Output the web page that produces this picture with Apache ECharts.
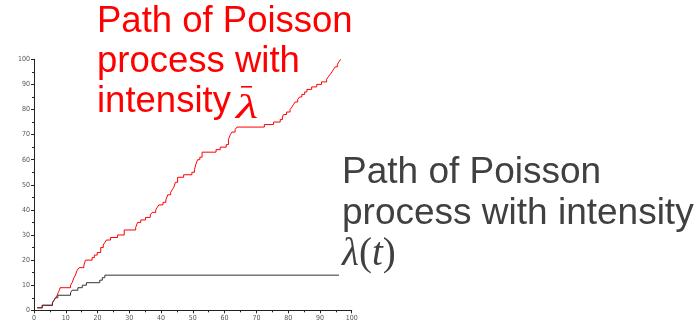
<!DOCTYPE html>
<html>
<head>
<meta charset="utf-8">
<style>
  html, body { margin: 0; padding: 0; background: #fff; }
  #chart { width: 698px; height: 325px; }
</style>
<script src="https://cdn.jsdelivr.net/npm/echarts@6/dist/echarts.min.js"></script>
</head>
<body>
<div id="chart"></div>
<script>
// Jump times and counts of the homogeneous path (intensity λ̄)
const barTimes = [1, 2.6, 5.8, 6.3, 6.8, 7.3, 7.6, 8, 8.2, 11.5, 12, 12.6, 13, 13.6, 14.2, 15.7, 16.2,
  18.3, 19, 19.9, 21, 21.8, 22.3, 22.8, 24.1, 26.3, 28.4, 32, 32.6, 33.6, 35.1, 36.6, 37.2, 38.3,
  38.8, 39.3, 40.6, 41.5, 42.1, 43, 43.5, 44, 44.5, 45.2, 47.1, 49.7, 50.5, 50.9, 51.5, 52.2, 52.9,
  57.3, 58.6, 60.5, 61.2, 61.8, 62.3, 63.3, 63.9, 72.5, 75.4, 77.5, 78.2, 78.5, 79.5, 80.6, 81.2,
  81.7, 82.2, 83, 83.6, 84.3, 85.2, 85.9, 87.4, 89, 90.5, 92.1, 92.6, 93.2, 93.8, 94.3, 94.8, 95.5,
  96, 96.5];
const barCounts = [1, 2, 3, 4, 5, 6, 7, 8, 9, 10, 11, 13, 14, 16, 17, 18, 20,
  21, 22, 23, 25, 26, 27, 28, 29, 30, 32, 33, 35, 36, 37, 38, 39, 40,
  41, 42, 43, 44, 46, 47, 48, 49, 51, 53, 54, 55, 56, 58, 60, 61, 63,
  64, 65, 66, 68, 70, 71, 72, 73, 74, 75, 76, 77, 78, 79, 80, 81,
  82, 83, 84, 85, 86, 87, 88, 89, 90, 91, 92, 93, 94, 95, 96, 97, 98,
  99, 100];

// Jump times and counts of the path with intensity λ(t)
const lamTimes = [1, 2.6, 5.8, 6.3, 6.8, 7.5, 11.5, 12, 13.8, 15.2, 16.5, 20.7, 21.5, 22.3, 96];
const lamCounts = [1, 2, 3, 4, 5, 6, 7, 8, 9, 10, 11, 12, 13, 14, 14];

// Axis ticks
const xTicks = [0, 10, 20, 30, 40, 50, 60, 70, 80, 90, 100];
const yTicks = [0, 10, 20, 30, 40, 50, 60, 70, 80, 90, 100];

const pairs = (xs, ys) => xs.map((x, i) => [x, ys[i]]);

const chart = echarts.init(document.getElementById('chart'), null, { renderer: 'canvas' });

const axisCommon = {
  type: 'value',
  min: 0,
  max: 100,
  interval: 10,
  axisLine: { show: true, lineStyle: { color: '#222', width: 1 } },
  axisTick: { show: true, inside: false, length: 3, lineStyle: { color: '#222' } },
  minorTick: { show: true, splitNumber: 2, length: 2, lineStyle: { color: '#222' } },
  splitLine: { show: false },
  axisLabel: {
    color: '#555',
    fontFamily: 'DejaVu Sans Condensed, DejaVu Sans',
    fontSize: 7,
    margin: 4
  }
};

const sansFont = 'Liberation Sans, Arial, sans-serif';
const mathFont = 'Liberation Serif, DejaVu Serif, serif';

chart.setOption({
  animation: false,
  backgroundColor: '#fff',
  grid: { left: 34, right: 346.3, top: 59.3, bottom: 14.7, containLabel: false },
  xAxis: Object.assign({}, axisCommon, {
    axisLabel: Object.assign({}, axisCommon.axisLabel, {
      formatter: v => xTicks.includes(v) ? String(v) : ''
    })
  }),
  yAxis: Object.assign({}, axisCommon, {
    axisLabel: Object.assign({}, axisCommon.axisLabel, {
      formatter: v => yTicks.includes(v) ? String(v) : ''
    })
  }),
  series: [
    {
      type: 'line',
      step: 'end',
      data: pairs(lamTimes, lamCounts),
      showSymbol: false,
      lineStyle: { color: '#333', width: 1 },
      z: 3
    },
    {
      type: 'line',
      step: 'end',
      data: pairs(barTimes, barCounts),
      showSymbol: false,
      lineStyle: { color: '#ff0000', width: 1 },
      z: 2
    }
  ],
  graphic: [
    {
      type: 'text',
      left: 97,
      top: 2,
      style: {
        text: 'Path of Poisson\nprocess with\nintensity',
        fontFamily: sansFont,
        fontSize: 36.5,
        lineHeight: 40,
        fill: '#ff0000'
      }
    },
    // λ with its bar
    {
      type: 'text',
      x: 236,
      y: 93,
      scaleX: 1.55,
      style: {
        text: 'λ',
        fontFamily: mathFont,
        fontStyle: 'italic',
        fontSize: 33,
        lineHeight: 33,
        fill: '#ff0000'
      }
    },
    {
      type: 'rect',
      shape: { x: 241, y: 86, width: 11, height: 1.6 },
      style: { fill: '#ff0000' }
    },
    {
      type: 'text',
      left: 342,
      top: 154,
      style: {
        text: '{s|Path of Poisson}\n{s|process with intensity}\n{m|λ}{p|(}{m|t}{p|)}',
        rich: {
          s: { fontFamily: sansFont, fontSize: 37, lineHeight: 41, fill: '#404040' },
          m: { fontFamily: mathFont, fontStyle: 'italic', fontSize: 39, lineHeight: 41, fill: '#404040' },
          p: { fontFamily: mathFont, fontSize: 39, lineHeight: 41, fill: '#404040' }
        }
      }
    }
  ]
});
</script>
</body>
</html>
